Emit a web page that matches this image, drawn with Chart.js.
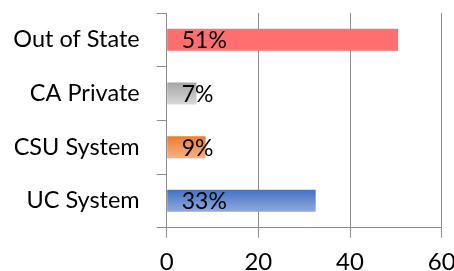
<!DOCTYPE html>
<html>
<head>
<meta charset="utf-8">
<script src="https://cdn.jsdelivr.net/npm/chart.js@4"></script>
<style>
  html, body { margin: 0; padding: 0; background: #fff; overflow: hidden; }
  #wrap { width: 470px; height: 271px; position: relative; }
</style>
</head>
<body>
<div id="wrap"><canvas id="myChart"></canvas></div>
<script>
const categories = ['Out of State', 'CA Private', 'CSU System', 'UC System'];
const shares = [50.5, 6.5, 8.5, 32.5];
const xTicks = [0, 20, 40, 60];

const topColors = ['#FF6F6F', '#A5A5A5', '#ED7D31', '#4472C4'];
const bottomColors = ['#FF6F6F', '#D9D9D9', '#F4B183', '#8FAADC'];

const FONT = 'Lato';
const gridColor = '#8C8C8C';

// vertical gradient per bar, built from the y scale position of each category
function barFill(context) {
    const chart = context.chart;
    const y = chart.scales.y;
    const i = context.dataIndex;
    if (!y || i === undefined) return topColors[0];
    const center = y.getPixelForValue(i);
    const half = (y.height / categories.length) * 0.41 / 2;
    if (!isFinite(center) || !isFinite(half) || half <= 0) return topColors[i];
    const g = chart.ctx.createLinearGradient(0, center - half, 0, center + half);
    g.addColorStop(0, topColors[i]);
    g.addColorStop(1, bottomColors[i]);
    return g;
}

// percent labels drawn just inside the base of each bar
const barLabels = {
    id: 'barLabels',
    afterDatasetsDraw(chart) {
        const c = chart.ctx;
        const x = chart.scales.x;
        c.save();
        c.font = '23px ' + FONT;
        c.fillStyle = '#000';
        c.textAlign = 'left';
        c.textBaseline = 'middle';
        chart.getDatasetMeta(0).data.forEach((bar, i) => {
            c.fillText(Math.round(shares[i]) + '%', x.getPixelForValue(0) + 15, bar.y + 1);
        });
        c.restore();
    }
};

const ctx = document.getElementById('myChart');

new Chart(ctx, {
    type: 'bar',
    data: {
        labels: categories,
        datasets: [{
            data: shares,
            backgroundColor: barFill,
            borderWidth: 0,
            barPercentage: 0.41,
            categoryPercentage: 1
        }]
    },
    options: {
        indexAxis: 'y',
        responsive: true,
        maintainAspectRatio: false,
        animation: false,
        layout: {
            padding: { top: 13, right: 28.3, left: 0, bottom: 0 }
        },
        plugins: {
            legend: { display: false },
            tooltip: { enabled: false }
        },
        scales: {
            x: {
                min: 0,
                max: 60,
                afterBuildTicks: (scale) => {
                    scale.ticks = xTicks.map(v => ({ value: v }));
                },
                afterFit: (scale) => { scale.height = 43.3; },
                grid: {
                    color: gridColor,
                    lineWidth: 1,
                    tickLength: 10
                },
                border: { color: gridColor },
                ticks: {
                    color: '#000',
                    padding: 10,
                    maxRotation: 0,
                    font: { family: FONT, size: 24 }
                }
            },
            y: {
                afterFit: (scale) => {
                    scale.width = 166.7;
                    scale.paddingTop = 0;
                    scale.paddingBottom = 0;
                },
                grid: {
                    drawOnChartArea: false,
                    color: gridColor,
                    tickLength: 10
                },
                border: { color: gridColor },
                ticks: {
                    color: '#000',
                    padding: 17,
                    font: { family: FONT, size: 23.5 }
                }
            }
        }
    },
    plugins: [barLabels]
});
</script>
</body>
</html>
